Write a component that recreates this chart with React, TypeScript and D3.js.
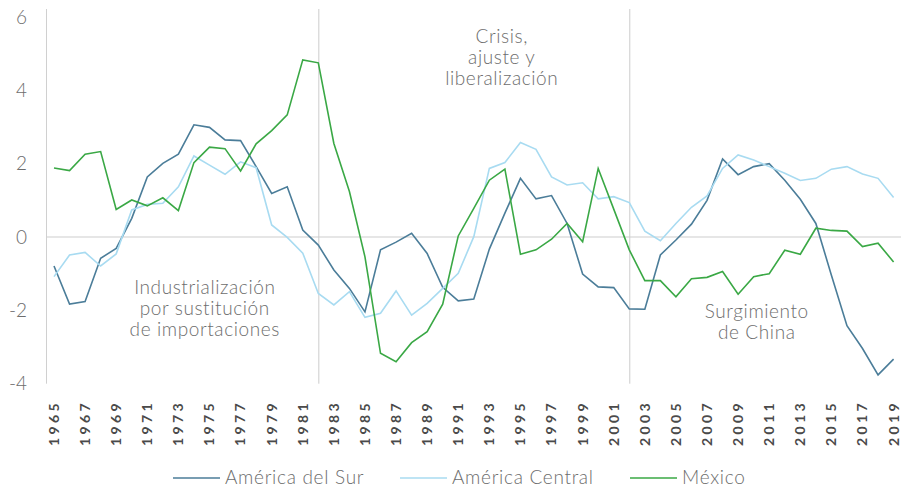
import React from "react";
import * as d3 from "d3";

const years: number[] = d3.range(1965, 2020);
const americaSur: number[] = [-0.79, -1.83, -1.76, -0.58, -0.31, 0.51, 1.64, 2.01, 2.26, 3.06, 2.99, 2.65, 2.63, 1.92, 1.19, 1.37, 0.19, -0.22, -0.9, -1.4, -2.04, -0.35, -0.14, 0.1, -0.45, -1.37, -1.74, -1.69, -0.33, 0.65, 1.6, 1.04, 1.13, 0.37, -1.01, -1.36, -1.38, -1.96, -1.97, -0.49, -0.08, 0.35, 1.0, 2.13, 1.7, 1.92, 2.0, 1.55, 1.03, 0.37, -1.04, -2.42, -3.04, -3.76, -3.33];
const americaCentral: number[] = [-1.08, -0.49, -0.42, -0.79, -0.46, 0.74, 0.89, 0.92, 1.37, 2.21, 1.96, 1.71, 2.05, 1.89, 0.33, -0.01, -0.44, -1.54, -1.85, -1.49, -2.19, -2.08, -1.47, -2.13, -1.81, -1.4, -0.99, 0.01, 1.87, 2.03, 2.58, 2.39, 1.64, 1.42, 1.48, 1.04, 1.1, 0.94, 0.16, -0.1, 0.37, 0.81, 1.12, 1.87, 2.24, 2.1, 1.92, 1.74, 1.54, 1.6, 1.85, 1.92, 1.72, 1.6, 1.08];
const mexico: number[] = [1.88, 1.81, 2.26, 2.33, 0.75, 1.01, 0.85, 1.07, 0.72, 2.03, 2.45, 2.41, 1.8, 2.54, 2.9, 3.33, 4.83, 4.75, 2.55, 1.24, -0.54, -3.17, -3.4, -2.88, -2.58, -1.83, 0.03, 0.78, 1.55, 1.85, -0.47, -0.35, -0.06, 0.37, -0.13, 1.87, 0.76, -0.35, -1.19, -1.19, -1.63, -1.14, -1.1, -0.94, -1.56, -1.08, -1.0, -0.36, -0.47, 0.24, 0.18, 0.16, -0.26, -0.17, -0.68];
const yTicks: number[] = [6, 4, 2, 0, -2, -4];
const xTickYears: number[] = years.filter((y) => (y - 1965) % 2 === 0);
const dividers: number[] = [1982, 2002];
const seriesNames: string[] = ["América del Sur", "América Central", "México"];
const seriesColors: string[] = ["#4b7d99", "#a8dbf1", "#3aa845"];
const periodLabels: { lines: string[]; year: number; value: number; gap: number }[] = [
  { lines: ["Industrialización", "por sustitución", "de importaciones"], year: 1974.7, value: -1.55, gap: 21 },
  { lines: ["Crisis,", "ajuste y", "liberalización"], year: 1993.8, value: 5.29, gap: 21 },
  { lines: ["Surgimiento", "de China"], year: 2010.2, value: -2.2, gap: 21 },
];

const W = 901;
const H = 488;
const FONT = "Lato, 'Open Sans', sans-serif";

export default function App() {
  const x = d3.scaleLinear().domain([1965, 2019]).range([54, 893.6]);
  const y = d3.scaleLinear().domain([-4, 6]).range([383.7, 17]);
  const all = [americaSur, americaCentral, mexico];
  const line = d3
    .line<number>()
    .x((_, i) => x(years[i]))
    .y((d) => y(d));
  const legendX = [173, 400, 630];
  return (
    <svg width={W} height={H} style={{ position: "absolute", left: 0, top: 0, background: "#fff" }}>
      <line x1={46} x2={W} y1={y(0)} y2={y(0)} stroke="#e6e6e6" strokeWidth={2} />
      <line x1={46.5} x2={46.5} y1={9} y2={y(-4)} stroke="#d0d0d0" strokeWidth={1} />
      {dividers.map((d) => (
        <line key={d} x1={x(d) + 0.5} x2={x(d) + 0.5} y1={9} y2={y(-4)} stroke="#cccccc" strokeWidth={1} />
      ))}
      {yTicks.map((t) => (
        <text key={t} x={27} y={y(t)} dy="0.35em" textAnchor="end" fontFamily={FONT} fontWeight={300} fontSize={19} fill="#6d6d6d">
          {t}
        </text>
      ))}
      {xTickYears.map((yr) => (
        <text
          key={yr}
          transform={`translate(${x(yr)},400) rotate(-90)`}
          textAnchor="end"
          dy="0.35em"
          fontFamily={FONT}
          fontWeight={700}
          fontSize={14}
          letterSpacing={3.4}
          fill="#4a4a4a"
        >
          {yr}
        </text>
      ))}
      {periodLabels.map((p, k) => (
        <text key={k} x={x(p.year)} y={y(p.value)} textAnchor="middle" fontFamily={FONT} fontWeight={300} fontSize={19} letterSpacing={0.6} fill="#6d6d6d">
          {p.lines.map((l, j) => (
            <tspan key={j} x={x(p.year)} dy={j === 0 ? 0 : p.gap}>
              {l}
            </tspan>
          ))}
        </text>
      ))}
      {all.map((s, i) => (
        <path key={i} d={line(s) || ""} fill="none" stroke={seriesColors[i]} strokeWidth={1.6} strokeLinejoin="miter" />
      ))}
      {seriesNames.map((n, i) => (
        <g key={n}>
          <line x1={legendX[i]} x2={legendX[i] + 47} y1={478} y2={478} stroke={seriesColors[i]} strokeWidth={1.6} />
          <text x={legendX[i] + 52} y={478} dy="0.33em" fontFamily={FONT} fontWeight={300} fontSize={19} letterSpacing={0.7} fill="#6d6d6d">
            {n}
          </text>
        </g>
      ))}
    </svg>
  );
}
